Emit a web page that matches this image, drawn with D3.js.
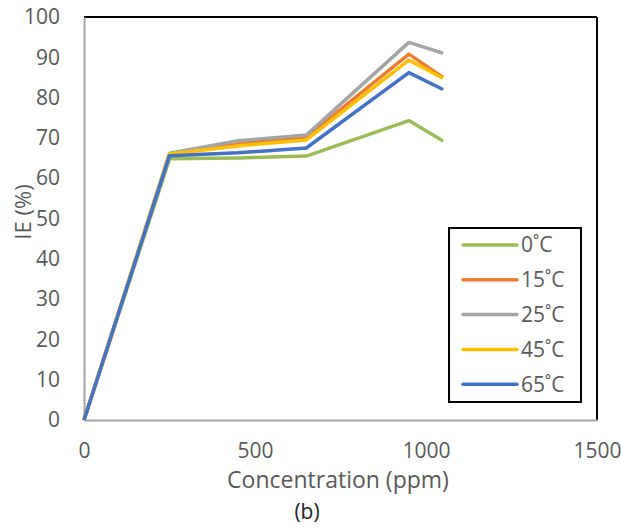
<!DOCTYPE html>
<html lang="en">
<head>
    <meta charset="UTF-8">
    <title>IE vs Concentration</title>
    <style>
        body { margin: 0; padding: 0; background: #fff; }
        svg text { font-family: "Open Sans", sans-serif; fill: #595959; }
    </style>
</head>
<body>
    <div id="chart"></div>

    <script src="https://d3js.org/d3.v7.min.js"></script>
    <script>
        // Data
        const concentration = [0, 250, 450, 650, 950, 1050];
        const t0 = [0, 64.8, 65.0, 65.5, 74.3, 69.2];
        const t15 = [0, 66.0, 68.5, 70.2, 90.8, 85.0];
        const t25 = [0, 66.2, 69.3, 70.7, 93.7, 91.0];
        const t45 = [0, 66.0, 68.0, 69.5, 89.3, 84.8];
        const t65 = [0, 65.6, 66.3, 67.5, 86.2, 82.0];
        const seriesNames = ["0˚C", "15˚C", "25˚C", "45˚C", "65˚C"];
        const colors = ["#9BBB59", "#ED7D31", "#A5A5A5", "#FFC000", "#4472C4"];
        const xTicks = [0, 500, 1000, 1500];
        const yTicks = [0, 10, 20, 30, 40, 50, 60, 70, 80, 90, 100];

        const series = [t0, t15, t25, t45, t65].map((vals, i) => ({
            name: seriesNames[i],
            color: colors[i],
            values: vals.map((v, j) => ({ x: concentration[j], y: v }))
        }));

        const W = 621, H = 527;
        const margin = { left: 84, right: 24, top: 17, bottom: 107 };

        const svg = d3.select("#chart").append("svg").attr("width", W).attr("height", H);

        const x = d3.scaleLinear().domain([0, 1500]).range([margin.left, W - margin.right]);
        const y = d3.scaleLinear().domain([0, 100]).range([H - margin.bottom, margin.top]);

        // Frame: top and right black, left and bottom grey
        svg.append("line").attr("x1", x(0)).attr("x2", x(1500)).attr("y1", y(100)).attr("y2", y(100))
            .attr("stroke", "#000").attr("stroke-width", 2);
        svg.append("line").attr("x1", x(1500)).attr("x2", x(1500)).attr("y1", y(100)).attr("y2", y(0))
            .attr("stroke", "#000").attr("stroke-width", 2);

        // Axes
        const xAxis = svg.append("g").attr("transform", `translate(0,${y(0)})`)
            .call(d3.axisBottom(x).tickValues(xTicks).tickFormat(d3.format("d")).tickSize(0).tickPadding(23));
        const yAxis = svg.append("g").attr("transform", `translate(${x(0)},0)`)
            .call(d3.axisLeft(y).tickValues(yTicks).tickFormat(d3.format("d")).tickSize(0).tickPadding(24));
        [xAxis, yAxis].forEach(a => {
            a.attr("font-family", null).attr("font-size", null);
            a.select(".domain").attr("stroke", "#A6A6A6").attr("stroke-width", 2);
            a.selectAll("text").style("font-size", "21px").style("fill", "#595959");
        });

        // Lines
        const line = d3.line().x(d => x(d.x)).y(d => y(d.y));
        svg.selectAll(".series")
            .data(series)
            .enter()
            .append("path")
            .attr("class", "series")
            .attr("fill", "none")
            .attr("stroke", d => d.color)
            .attr("stroke-width", 3.5)
            .attr("stroke-linejoin", "round")
            .attr("d", d => line(d.values));

        // Axis titles
        svg.append("text")
            .attr("transform", "translate(31,212) rotate(-90)")
            .attr("text-anchor", "middle")
            .style("font-size", "22px")
            .text("IE (%)");
        svg.append("text")
            .attr("x", 338).attr("y", 488)
            .attr("text-anchor", "middle")
            .style("font-size", "23px")
            .text("Concentration (ppm)");
        svg.append("text")
            .attr("x", 307).attr("y", 519)
            .attr("text-anchor", "middle")
            .style("font-size", "21px")
            .style("fill", "#262626")
            .text("(b)");

        // Legend
        const legend = svg.append("g");
        legend.append("rect")
            .attr("x", 449).attr("y", 228).attr("width", 132).attr("height", 174)
            .attr("fill", "#fff").attr("stroke", "#000").attr("stroke-width", 2);
        const rows = legend.selectAll(".row")
            .data(series)
            .enter()
            .append("g")
            .attr("transform", (d, i) => `translate(0,${245 + i * 34.8})`);
        rows.append("line")
            .attr("x1", 463).attr("x2", 517).attr("y1", 0).attr("y2", 0)
            .attr("stroke", d => d.color).attr("stroke-width", 3.5).attr("stroke-linecap", "round");
        rows.append("text")
            .attr("x", 521).attr("y", 0).attr("dy", "0.35em")
            .style("font-size", "21px")
            .text(d => d.name);
    </script>
</body>
</html>
